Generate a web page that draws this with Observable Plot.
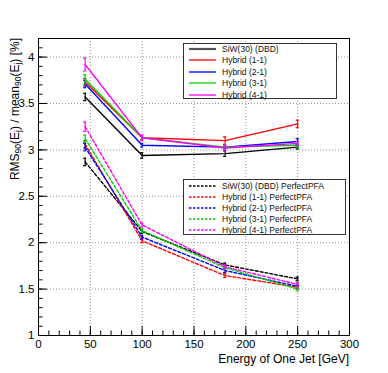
<!DOCTYPE html>
<html>
<head>
<meta charset="utf-8">
<script src="https://cdn.jsdelivr.net/npm/d3@7"></script>
<script src="https://cdn.jsdelivr.net/npm/@observablehq/plot@0.6"></script>
<style>
  body { margin: 0; background: #fff; }
  #wrap { position: relative; width: 388px; height: 373px; font-family: "Liberation Sans", Arial, Helvetica, sans-serif; }
  #wrap > svg { position: absolute; left: 0; top: 0; }
  .legend { position: absolute; border: 1px solid #333; background: #fff; box-sizing: border-box; }
  .legend .row { position: absolute; left: 0; height: 11px; display: flex; align-items: center; font-size: 8.5px; color: #111; white-space: nowrap; }
  .legend .row svg { display: block; margin-left: 5px; margin-right: 6px; }
</style>
</head>
<body>
<div id="wrap"></div>
<script>
// ---- data ----
const energies = [45, 100, 180, 250];

const seriesNames = ["SiW(30) (DBD)", "Hybrid (1-1)", "Hybrid (2-1)", "Hybrid (3-1)", "Hybrid (4-1)"];
const seriesColors = ["#000000", "#ff0000", "#0000ff", "#00d400", "#ff00ff"];

// realistic PFA (solid)
const siw  = [3.57, 2.94, 2.96, 3.03];
const h11  = [3.73, 3.13, 3.10, 3.28];
const h21  = [3.71, 3.05, 3.03, 3.09];
const h31  = [3.76, 3.13, 3.03, 3.05];
const h41  = [3.92, 3.13, 3.02, 3.07];
const siwErr = [0.04, 0.03, 0.03, 0.02];
const h11Err = [0.04, 0.02, 0.04, 0.04];
const h21Err = [0.04, 0.02, 0.02, 0.03];
const h31Err = [0.05, 0.02, 0.02, 0.02];
const h41Err = [0.07, 0.03, 0.03, 0.02];

// PerfectPFA (dashed)
const siwP = [2.87, 2.12, 1.76, 1.61];
const h11P = [3.06, 2.02, 1.645, 1.52];
const h21P = [3.03, 2.06, 1.70, 1.53];
const h31P = [3.12, 2.13, 1.73, 1.50];
const h41P = [3.25, 2.19, 1.74, 1.55];
const siwPErr = [0.04, 0.02, 0.02, 0.02];
const h11PErr = [0.04, 0.02, 0.02, 0.02];
const h21PErr = [0.04, 0.02, 0.02, 0.02];
const h31PErr = [0.04, 0.02, 0.02, 0.02];
const h41PErr = [0.05, 0.02, 0.02, 0.02];

// axis ticks
const xMajor = [0, 50, 100, 150, 200, 250, 300];
const xMinor = d3.range(0, 301, 10);
const yMajor = [1, 1.5, 2, 2.5, 3, 3.5, 4];
const yMinor = d3.range(10, 43, 1).map(v => v / 10);

// ---- build tidy rows ----
const solidVals = [siw, h11, h21, h31, h41];
const solidErrs = [siwErr, h11Err, h21Err, h31Err, h41Err];
const dashVals = [siwP, h11P, h21P, h31P, h41P];
const dashErrs = [siwPErr, h11PErr, h21PErr, h31PErr, h41PErr];

const series = [];
seriesNames.forEach((n, k) => {
  series.push({name: n, color: seriesColors[k], dashed: false, vals: solidVals[k], errs: solidErrs[k]});
});
seriesNames.forEach((n, k) => {
  series.push({name: n + " PerfectPFA", color: seriesColors[k], dashed: true, vals: dashVals[k], errs: dashErrs[k]});
});
const rows = series.flatMap(s => energies.map((e, i) => ({series: s.name, color: s.color, dashed: s.dashed, x: e, y: s.vals[i], err: s.errs[i]})));

const W = 388, H = 373, ML = 38, MR = 39, MT = 38, MB = 38;
const plotW = W - ML - MR, plotH = H - MT - MB;

const marks = [
  Plot.gridX(xMajor.slice(1, -1), {stroke: "#777", strokeOpacity: 1, strokeDasharray: "1,2", strokeWidth: 0.8}),
  Plot.gridY(yMajor.slice(1), {stroke: "#777", strokeOpacity: 1, strokeDasharray: "1,2", strokeWidth: 0.8}),
  Plot.tickX(xMinor, {x: d => d, insetTop: plotH - 4.5, stroke: "#000"}),
  Plot.tickX(xMajor, {x: d => d, insetTop: plotH - 9, stroke: "#000"}),
  Plot.tickY(yMinor, {y: d => d, insetRight: plotW - 4.5, stroke: "#000"}),
  Plot.tickY(yMajor, {y: d => d, insetRight: plotW - 9, stroke: "#000"}),
  Plot.axisX(xMajor, {tickSize: 0, tickPadding: 4, tickFormat: d => String(d), label: null, fontSize: 11.5}),
  Plot.axisY(yMajor, {tickSize: 0, tickPadding: 4, tickFormat: d => String(d), label: null, fontSize: 11.5}),
];

series.forEach(s => {
  const data = rows.filter(r => r.series === s.name);
  marks.push(Plot.line(data, {x: "x", y: "y", stroke: s.color, strokeWidth: 1.4, strokeDasharray: s.dashed ? "3,2" : null}));
  marks.push(Plot.ruleX(data, {x: "x", y1: d => d.y - d.err, y2: d => d.y + d.err, stroke: s.color, strokeWidth: 1.2}));
  marks.push(Plot.ruleY(data, {y: d => d.y - d.err, x1: d => d.x - 1.5, x2: d => d.x + 1.5, stroke: s.color, strokeWidth: 1.2}));
  marks.push(Plot.ruleY(data, {y: d => d.y + d.err, x1: d => d.x - 1.5, x2: d => d.x + 1.5, stroke: s.color, strokeWidth: 1.2}));
});
marks.push(Plot.frame({stroke: "#000", strokeWidth: 1}));

const plot = Plot.plot({
  width: W, height: H,
  marginLeft: ML, marginRight: MR, marginTop: MT, marginBottom: MB,
  x: {domain: [0, 300]},
  y: {domain: [1, 4.2]},
  style: {fontFamily: '"Liberation Sans", Arial, Helvetica, sans-serif', fontSize: "11.5px", background: "white", color: "#000"},
  marks
});

const wrap = document.getElementById("wrap");
wrap.appendChild(plot);

// axis titles (with subscripts)
const svg = d3.select(plot);
const yt = svg.append("text")
  .attr("transform", `translate(19,${MT}) rotate(-90)`)
  .attr("text-anchor", "end")
  .attr("font-size", 12)
  .attr("fill", "#000");
const parts = [["RMS", 0], ["90", 1], ["(E", 0], ["j", 1], [") / mean", 0], ["90", 1], ["(E", 0], ["j", 1], [") [%]", 0]];
parts.forEach(([t, sub]) => {
  const ts = yt.append("tspan").text(t);
  if (sub) ts.attr("font-size", 8.5).attr("baseline-shift", "-25%");
});
svg.append("text")
  .attr("x", W - MR).attr("y", H - 10)
  .attr("text-anchor", "end")
  .attr("font-size", 12)
  .attr("fill", "#000")
  .text("Energy of One Jet [GeV]");

// legends
function makeLegend(items, left, top, width, height, rowStart, rowStep, dashed) {
  const box = document.createElement("div");
  box.className = "legend";
  Object.assign(box.style, {left: left + "px", top: top + "px", width: width + "px", height: height + "px"});
  items.forEach((it, i) => {
    const row = document.createElement("div");
    row.className = "row";
    row.style.top = (rowStart + i * rowStep - 5.5) + "px";
    const sw = d3.create("svg").attr("width", 27).attr("height", 6);
    sw.append("line").attr("x1", 0).attr("x2", 27).attr("y1", 3).attr("y2", 3)
      .attr("stroke", it.color === "#000000" && !dashed ? "#555" : it.color)
      .attr("stroke-width", it.color === "#000000" && !dashed ? 2.2 : 1.3)
      .attr("stroke-dasharray", dashed ? "2.5,1.5" : null);
    row.appendChild(sw.node());
    const span = document.createElement("span");
    span.textContent = it.name;
    row.appendChild(span);
    box.appendChild(row);
  });
  wrap.appendChild(box);
}
makeLegend(series.filter(s => !s.dashed), 183, 43, 154, 56, 4.5, 11.5, false);
makeLegend(series.filter(s => s.dashed), 183, 179, 163, 56, 6, 11.1, true);
</script>
</body>
</html>
